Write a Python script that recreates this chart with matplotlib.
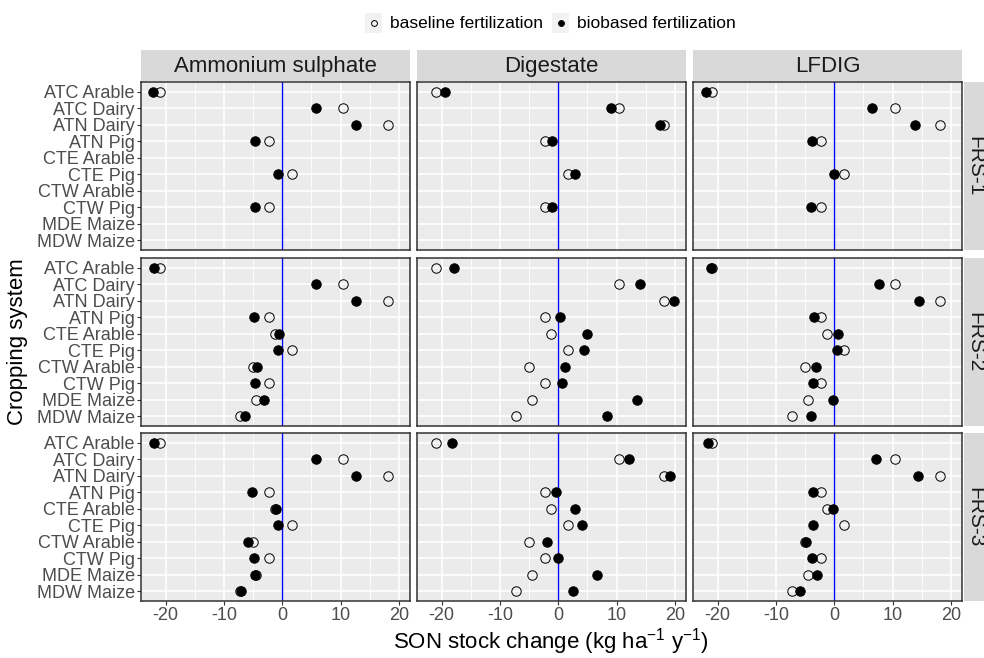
import numpy as np
import matplotlib
matplotlib.use("Agg")
import matplotlib.pyplot as plt
from matplotlib.lines import Line2D
from matplotlib.patches import Rectangle

plt.rcParams['font.family'] = ['Liberation Sans', 'DejaVu Sans']
plt.rcParams['mathtext.fontset'] = 'custom'
plt.rcParams['mathtext.rm'] = 'Liberation Sans'
plt.rcParams['mathtext.it'] = 'Liberation Sans'

nan = np.nan

# cropping systems, top to bottom
systems = ["ATC Arable", "ATC Dairy", "ATN Dairy", "ATN Pig", "CTE Arable",
           "CTE Pig", "CTW Arable", "CTW Pig", "MDE Maize", "MDW Maize"]
fertilizers = ["Ammonium sulphate", "Digestate", "LFDIG"]
frs_levels = ["FRS-1", "FRS-2", "FRS-3"]

# baseline fertilization (same in every panel)
baseline = [-20.9, 10.4, 18.2, -2.2, -1.3, 1.6, -5.0, -2.2, -4.5, -7.2]

# biobased fertilization, one list per panel
as_frs1 = [-22.1, 5.8, 12.6, -4.6, nan, -0.7, nan, -4.6, nan, nan]
dg_frs1 = [-19.4, 9.0, 17.5, -1.1, nan, 2.8, nan, -1.1, nan, nan]
lf_frs1 = [-21.9, 6.4, 13.9, -3.8, nan, 0.0, nan, -4.0, nan, nan]
as_frs2 = [-21.9, 5.8, 12.6, -4.8, -0.6, -0.7, -4.3, -4.6, -3.2, -6.3]
dg_frs2 = [-17.8, 14.1, 19.9, 0.3, 5.0, 4.5, 1.2, 0.7, 13.5, 8.3]
lf_frs2 = [-21.1, 7.6, 14.5, -3.4, 0.7, 0.5, -3.1, -3.6, -0.2, -3.9]
as_frs3 = [-22.0, 5.8, 12.6, -5.1, -1.1, -0.7, -5.8, -4.8, -4.6, -7.1]
dg_frs3 = [-18.2, 12.1, 19.2, -0.3, 2.8, 4.0, -1.9, 0.0, 6.6, 2.6]
lf_frs3 = [-21.6, 7.1, 14.3, -3.7, -0.2, -3.7, -4.9, -3.8, -2.9, -5.9]

biobased = [[as_frs1, dg_frs1, lf_frs1],
            [as_frs2, dg_frs2, lf_frs2],
            [as_frs3, dg_frs3, lf_frs3]]

W, H = 984, 658
fig = plt.figure(figsize=(W / 100, H / 100), dpi=100)

col_left = [141, 417, 693]
col_w = 269
row_top = [82, 258, 433]
row_h = 168

ypos = np.arange(len(systems))
base = np.array(baseline)

for r in range(3):
    for c in range(3):
        ax = fig.add_axes([col_left[c] / W, 1 - (row_top[r] + row_h) / H, col_w / W, row_h / H])
        ax.set_facecolor("#EBEBEB")
        bio = np.array(biobased[r][c])
        b = np.where(np.isnan(bio), nan, base)
        ax.axvline(0, color="#0000FF", lw=1.0, zorder=2)
        ax.plot(b, ypos, "o", ms=6.8, mfc="none", mec="black", mew=0.7, zorder=3)
        ax.plot(bio, ypos, "o", ms=6.8, mfc="black", mec="black", mew=0.7, zorder=4)

        ax.set_xlim(-24.2, 21.9)
        ax.set_ylim(len(systems) - 0.4, -0.6)
        ax.set_xticks([-20, -10, 0, 10, 20])
        ax.set_xticks([-15, -5, 5, 15], minor=True)
        ax.set_yticks(ypos)
        ax.grid(which="major", color="white", lw=1.2, zorder=0)
        ax.grid(which="minor", axis="x", color="white", lw=0.6, zorder=0)
        ax.set_axisbelow(True)
        for s in ax.spines.values():
            s.set_color("#333333")
            s.set_linewidth(1.1)
        ax.tick_params(which="minor", length=0)
        ax.tick_params(which="major", length=3, color="#333333", width=0.8,
                       labelsize=13, labelcolor="#4D4D4D", pad=1.5)
        if c == 0:
            ax.set_yticklabels(systems)
        else:
            ax.tick_params(axis="y", length=0, labelleft=False)
        if r == 2:
            ax.set_xticklabels(["-20", "-10", "0", "10", "20"])
        else:
            ax.tick_params(axis="x", length=0, labelbottom=False)

        # top strips
        if r == 0:
            sax = fig.add_axes([col_left[c] / W, 1 - 81 / H, col_w / W, 31 / H])
            sax.set_facecolor("#D9D9D9")
            sax.set_xticks([])
            sax.set_yticks([])
            for s in sax.spines.values():
                s.set_visible(False)
            sax.text(0.5, 0.47, fertilizers[c], ha="center", va="center",
                     fontsize=16, color="#1A1A1A", transform=sax.transAxes)
        # right strips
        if c == 2:
            sax = fig.add_axes([964 / W, 1 - (row_top[r] + row_h) / H, 30 / W, row_h / H])
            sax.set_facecolor("#D9D9D9")
            sax.set_xticks([])
            sax.set_yticks([])
            for s in sax.spines.values():
                s.set_visible(False)
            fig.text(975 / W, 1 - (row_top[r] + row_h / 2) / H, frs_levels[r],
                     ha="center", va="center", rotation=-90, fontsize=15, color="#1A1A1A")

# axis titles
fig.text(551 / W, 1 - 642 / H, r"SON stock change (kg ha$^{-1}$ y$^{-1}$)",
         ha="center", va="center", fontsize=16)
fig.text(18 / W, 1 - 342 / H, "Cropping system", ha="center", va="center",
         rotation=90, fontsize=16)

# legend
leg_y = 1 - 23 / H
for kx, tx, fill, label in [(365, 390, "none", "baseline fertilization"),
                            (552, 577, "black", "biobased fertilization")]:
    fig.add_artist(Rectangle((kx / W, 1 - 33 / H), 17 / W, 20 / H,
                             transform=fig.transFigure, facecolor="#F2F2F2", edgecolor="none"))
    fig.add_artist(Line2D([(kx + 8.5) / W], [leg_y], transform=fig.transFigure,
                          marker="o", ms=4.2, mfc=fill, mec="black", mew=0.7, ls="none"))
    fig.text(tx / W, leg_y, label, ha="left", va="center", fontsize=12.5, color="black")

fig.savefig("out.png", dpi=100)
